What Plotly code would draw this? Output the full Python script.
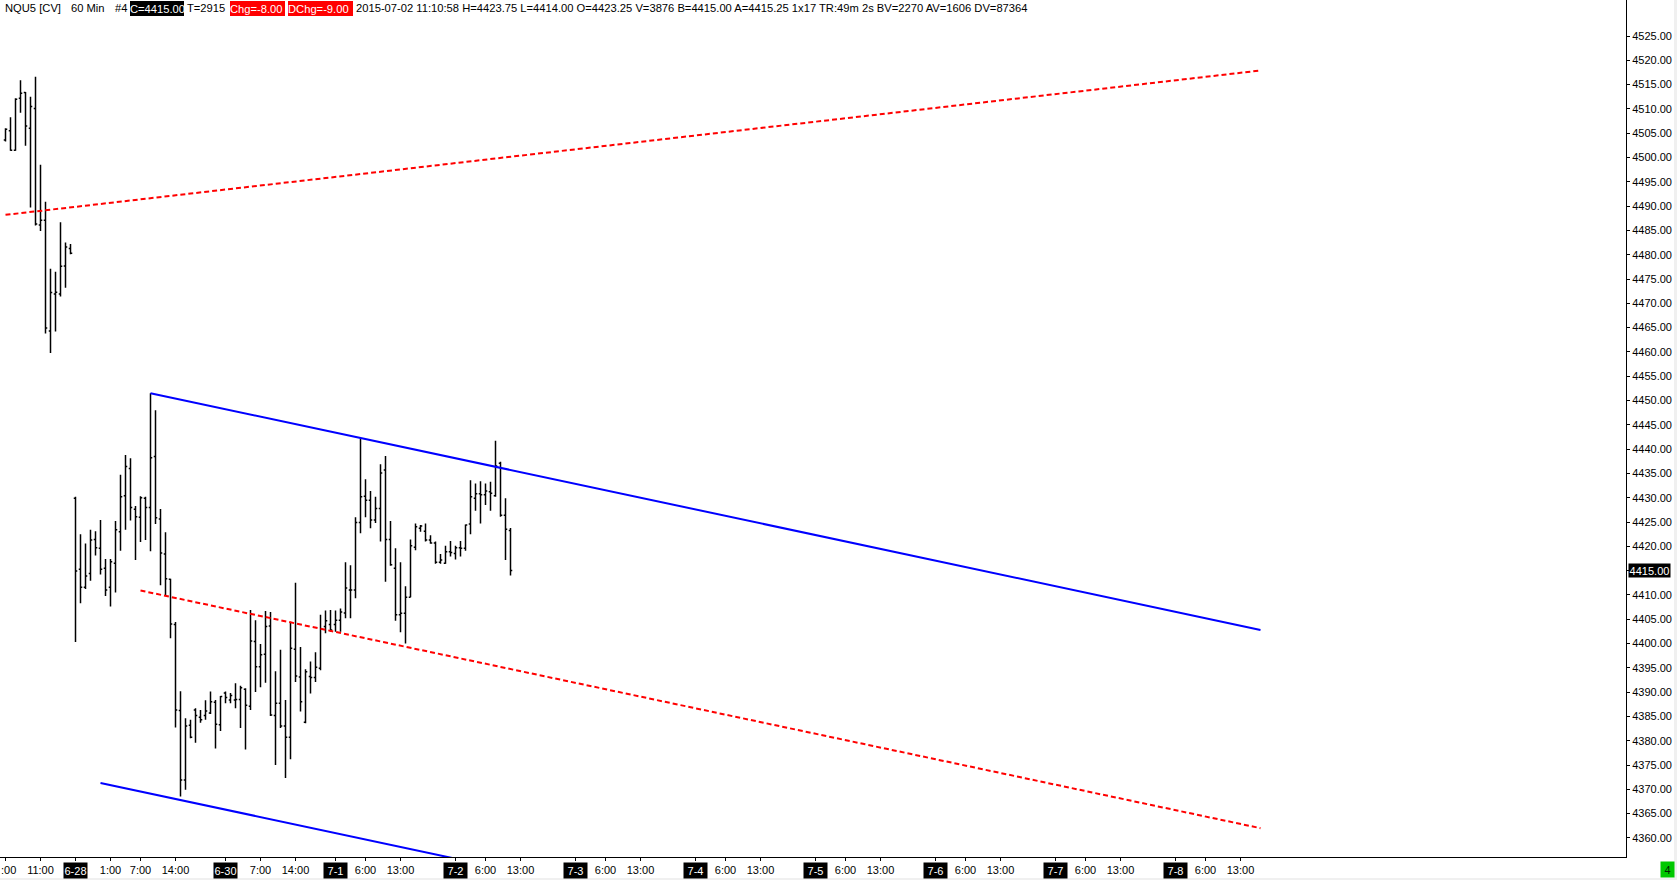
import plotly.graph_objects as go

# ---------------- data ----------------
bar_index = list(range(102))

opens = [4503.6, 4505.5, 4501.5, 4512.2, 4513.4, 4506.0, 4510.1, 4486.1, 4487.1, 4464.3, 4471.9, 4471.9, 4477.7, 4481.3,
         4429.9, 4415.3, 4411.6, 4414.4, 4421.4, 4419.6, 4415.5, 4411.6, 4416.5, 4423.0, 4430.4, 4436.0, 4427.6, 4426.0,
         4429.9, 4428.0, 4438.5, 4425.6, 4418.4, 4413.2, 4403.9, 4386.2, 4371.9, 4383.2, 4386.3, 4384.8, 4385.2, 4385.7,
         4387.9, 4383.3, 4389.8, 4388.4, 4388.4, 4388.5, 4390.6,
         4387.1, 4400.4, 4395.2, 4397.8, 4403.6, 4385.2, 4387.7, 4383.0, 4380.7, 4398.8, 4393.1, 4383.8,
         4393.2, 4393.0, 4394.9, 4403.5, 4403.9, 4403.9, 4404.8, 4406.3, 4411.0, 4411.0, 4424.9, 4430.3, 4429.5, 4425.4,
         4427.8, 4435.7, 4421.4, 4415.5, 4405.9, 4406.2, 4409.5, 4419.8, 4423.7, 4423.1, 4421.3, 4420.7,
         4416.7, 4416.5, 4418.9, 4418.5, 4419.7, 4419.6, 4424.6, 4429.9, 4430.8, 4430.6, 4431.2, 4430.4, 4437.1, 4426.4,
         4423.25]

highs = [4506.0, 4508.3, 4512.2, 4515.9, 4513.5, 4512.5, 4516.6, 4498.5, 4490.9, 4477.1, 4476.5, 4486.7, 4482.5, 4482.2,
         4430.2, 4422.5, 4420.6, 4423.4, 4423.1, 4425.4, 4417.4, 4417.4, 4425.2, 4434.7, 4438.8, 4438.1, 4428.3, 4430.3,
         4430.2, 4451.5, 4448.0, 4427.7, 4422.9, 4413.3, 4404.4, 4390.2, 4384.6, 4384.3, 4386.7, 4386.3, 4388.3, 4390.1,
         4388.4, 4389.2, 4390.1, 4389.8, 4391.8, 4391.3, 4390.8,
         4406.9, 4404.8, 4399.9, 4406.7, 4406.5, 4394.3, 4398.7, 4388.4, 4404.5, 4412.5, 4399.3, 4394.7,
         4396.3, 4398.2, 4405.9, 4406.8, 4406.9, 4406.8, 4407.2, 4416.7, 4416.1, 4426.0, 4442.2, 4433.8, 4431.4, 4430.2,
         4436.9, 4438.6, 4425.2, 4419.6, 4416.7, 4411.8, 4421.4, 4424.7, 4424.4, 4424.7, 4422.3, 4421.0,
         4418.4, 4420.1, 4421.1, 4420.1, 4421.1, 4424.5, 4433.6, 4432.9, 4433.4, 4432.9, 4433.3, 4441.7, 4437.4, 4429.9,
         4423.75]

lows = [4503.3, 4501.4, 4501.4, 4509.2, 4502.4, 4489.7, 4486.0, 4484.9, 4463.8, 4459.8, 4464.2, 4471.4, 4473.2, 4480.1,
        4400.3, 4408.3, 4411.2, 4412.9, 4418.1, 4414.2, 4409.8, 4407.6, 4410.5, 4419.1, 4423.4, 4425.3, 4417.2, 4420.9,
        4421.3, 4419.0, 4424.6, 4412.0, 4410.0, 4401.1, 4382.7, 4368.5, 4369.9, 4380.5, 4379.6, 4383.7, 4384.3, 4385.5,
        4378.4, 4382.0, 4387.7, 4387.7, 4386.7, 4382.6, 4378.2,
        4386.3, 4390.0, 4391.0, 4391.9, 4385.1, 4375.0, 4382.6, 4372.3, 4376.2, 4392.1, 4386.0, 4383.6,
        4389.7, 4392.1, 4394.5, 4402.1, 4402.4, 4402.4, 4402.4, 4405.2, 4405.2, 4409.3, 4422.7, 4426.0, 4423.7, 4424.8,
        4421.0, 4412.7, 4416.0, 4404.7, 4402.3, 4400.0, 4409.5, 4419.2, 4423.0, 4421.0, 4420.5, 4416.4,
        4416.4, 4416.4, 4417.9, 4417.3, 4417.9, 4419.1, 4422.5, 4427.3, 4424.7, 4428.5, 4427.3, 4430.2, 4426.1, 4417.2,
        4414.0]

closes = [4505.8, 4501.5, 4512.0, 4513.2, 4506.5, 4510.5, 4486.3, 4487.1, 4464.9, 4472.2, 4472.3, 4477.6, 4481.6, 4480.3,
          4414.9, 4411.6, 4413.9, 4421.3, 4419.7, 4415.3, 4411.0, 4416.8, 4423.4, 4430.2, 4436.4, 4428.0, 4426.1, 4430.0,
          4428.0, 4438.2, 4425.9, 4418.6, 4413.3, 4404.0, 4386.3, 4371.9, 4383.0, 4380.7, 4385.2, 4384.3, 4386.1, 4388.0,
          4383.4, 4389.1, 4388.9, 4389.3, 4388.5, 4390.9, 4387.3,
          4400.5, 4395.2, 4397.7, 4403.5, 4385.3, 4387.7, 4383.0, 4380.7, 4399.0, 4393.3, 4388.0, 4394.2,
          4393.0, 4395.1, 4403.0, 4404.7, 4402.8, 4404.8, 4406.5, 4411.4, 4411.0, 4424.9, 4430.2, 4429.5, 4425.4, 4427.8,
          4435.1, 4421.4, 4416.2, 4405.9, 4406.2, 4409.5, 4420.1, 4424.0, 4424.2, 4421.3, 4420.7, 4416.7,
          4417.2, 4418.9, 4418.7, 4419.7, 4419.6, 4424.4, 4430.2, 4430.8, 4430.6, 4431.4, 4430.9, 4436.5, 4426.4, 4423.5,
          4415.0]

# trend lines (bar index, price)
red_upper_x = [0, 251]
red_upper_y = [4488.2, 4517.9]
blue_upper_x = [29, 251]
blue_upper_y = [4451.5, 4402.8]
blue_lower_x = [19, 251]
blue_lower_y = [4371.3, 4320.4]
red_lower_x = [27, 251]
red_lower_y = [4410.9, 4362.0]

# x-axis labels (the first one is shown only partly, as ":00", at the left edge)
edge_tick_pos = 0
edge_tick_text = ":00"
hour_tick_pos = [7, 21, 27, 34, 51, 58, 72, 79, 96, 103, 120, 127, 144, 151, 168, 175, 192, 199, 216, 223, 240, 247]
hour_tick_text = ["11:00", "1:00", "7:00", "14:00", "7:00", "14:00", "6:00", "13:00", "6:00", "13:00",
                  "6:00", "13:00", "6:00", "13:00", "6:00", "13:00", "6:00", "13:00", "6:00", "13:00", "6:00", "13:00"]
day_tick_pos = [14, 44, 66, 90, 114, 138, 162, 186, 210, 234]
day_tick_text = ["6-28", "6-30", "7-1", "7-2", "7-3", "7-4", "7-5", "7-6", "7-7", "7-8"]

# y-axis labels
price_ticks = [4360, 4365, 4370, 4375, 4380, 4385, 4390, 4395, 4400, 4405, 4410, 4415, 4420, 4425, 4430, 4435,
               4440, 4445, 4450, 4455, 4460, 4465, 4470, 4475, 4480, 4485, 4490, 4495, 4500, 4505, 4510, 4515,
               4520, 4525]
last_price = 4415.00

header_plain = [("NQU5 [CV]", 4.3), ("60 Min", 69.6), ("#4", 114), ("T=2915", 185.7),
                ("2015-07-02 11:10:58 H=4423.75 L=4414.00 O=4423.25 V=3876 B=4415.00 A=4415.25 1x17 TR:49m 2s "
                 "BV=2270 AV=1606 DV=87364", 354.6)]
header_boxes = [("C=4415.00", 129.6, 54, "black"), ("Chg=-8.00", 229.6, 55, "#ff0000"),
                ("DChg=-9.00", 287.5, 65, "#ff0000")]

# ---------------- figure ----------------
FONT = "Liberation Sans, Arial, sans-serif"
PW, PH = 1626, 857  # plot area size in px

fig = go.Figure()
fig.add_trace(go.Ohlc(
    x=bar_index, open=opens, high=highs, low=lows, close=closes,
    increasing=dict(line=dict(color="black", width=1.5)),
    decreasing=dict(line=dict(color="black", width=1.5)),
    tickwidth=0.35, hoverinfo="skip", showlegend=False))

for xs, ys, col, dash in [(red_upper_x, red_upper_y, "#ff0000", "5px,3px"),
                          (blue_upper_x, blue_upper_y, "#0000ff", "solid"),
                          (blue_lower_x, blue_lower_y, "#0000ff", "solid"),
                          (red_lower_x, red_lower_y, "#ff0000", "5px,3px")]:
    fig.add_trace(go.Scatter(x=xs, y=ys, mode="lines", line=dict(color=col, width=2, dash=dash),
                             hoverinfo="skip", showlegend=False))

annotations = []
hy = (PH - 8.5) / PH
for txt, px in header_plain:
    annotations.append(dict(text=txt, xref="paper", yref="paper", x=px / PW, y=hy, xanchor="left",
                            yanchor="middle", showarrow=False, borderpad=0,
                            font=dict(family=FONT, size=11.2, color="black")))
for txt, px, w, bg in header_boxes:
    annotations.append(dict(text=txt, xref="paper", yref="paper", x=px / PW, y=hy, xanchor="left",
                            yanchor="middle", showarrow=False, width=w, height=15, align="left",
                            bgcolor=bg, borderpad=0, borderwidth=0,
                            font=dict(family=FONT, size=11.2, color="white")))
for pos, txt in zip(day_tick_pos, day_tick_text):
    annotations.append(dict(text=txt, xref="x", yref="paper", x=pos, y=(PH - 870) / PH, xanchor="center",
                            yanchor="middle", showarrow=False, width=23, height=15, align="center",
                            bgcolor="black", borderpad=0, font=dict(family=FONT, size=11, color="white")))
annotations.append(dict(text=edge_tick_text, xref="paper", yref="paper", x=0, y=(PH - 870) / PH,
                        xanchor="left", yanchor="middle", showarrow=False, borderpad=0,
                        font=dict(family=FONT, size=11, color="black")))
annotations.append(dict(text=f"{last_price:.2f}", xref="paper", yref="y", x=1628 / PW, y=last_price,
                        xanchor="left", yanchor="middle", showarrow=False, width=41, height=13, align="center",
                        bgcolor="black", borderpad=0, font=dict(family=FONT, size=11, color="white")))
annotations.append(dict(text="4", xref="paper", yref="paper", x=1667.5 / PW, y=(PH - 869.5) / PH,
                        xanchor="center", yanchor="middle", showarrow=False, width=13, height=15,
                        bgcolor="#00c800", borderpad=0, font=dict(family=FONT, size=11, color="#002000")))

shapes = [dict(type="rect", xref="paper", yref="paper", x0=0, x1=1677 / PW, y0=(PH - 880) / PH,
               y1=(PH - 878) / PH, fillcolor="#f0f0f0", line=dict(width=0), layer="below"),
          dict(type="rect", xref="paper", yref="paper", x0=1674 / PW, x1=1677 / PW, y0=(PH - 880) / PH,
               y1=1, fillcolor="#f0f0f0", line=dict(width=0), layer="below")]

fig.update_layout(
    width=1677, height=880,
    margin=dict(l=0, r=51, t=0, b=23, pad=0, autoexpand=False),
    paper_bgcolor="white", plot_bgcolor="white", showlegend=False,
    font=dict(family=FONT, size=11, color="black"),
    annotations=annotations, shapes=shapes,
    xaxis=dict(range=[-1.1, 324.1], tickmode="array", automargin=False,
               tickvals=[edge_tick_pos] + hour_tick_pos + day_tick_pos,
               ticktext=[""] + hour_tick_text + [""] * len(day_tick_pos),
               ticks="outside", ticklen=3, tickcolor="black", tickangle=0,
               showline=True, linecolor="black", linewidth=1, showgrid=False, zeroline=False,
               rangeslider=dict(visible=False),
               tickfont=dict(family=FONT, size=11, color="black")),
    yaxis=dict(side="right", range=[4356.07, 4532.41], tickmode="array", automargin=False,
               tickvals=price_ticks,
               ticktext=["" if v == last_price else f"{v:.2f}" for v in price_ticks],
               ticks="outside", ticklen=3, tickcolor="black",
               showline=True, linecolor="black", linewidth=1, showgrid=False, zeroline=False,
               tickfont=dict(family=FONT, size=11, color="black")),
)

fig.write_html("out.html", config={"displayModeBar": False},
               post_script="document.body.style.margin='0px';document.body.style.overflow='hidden';")
